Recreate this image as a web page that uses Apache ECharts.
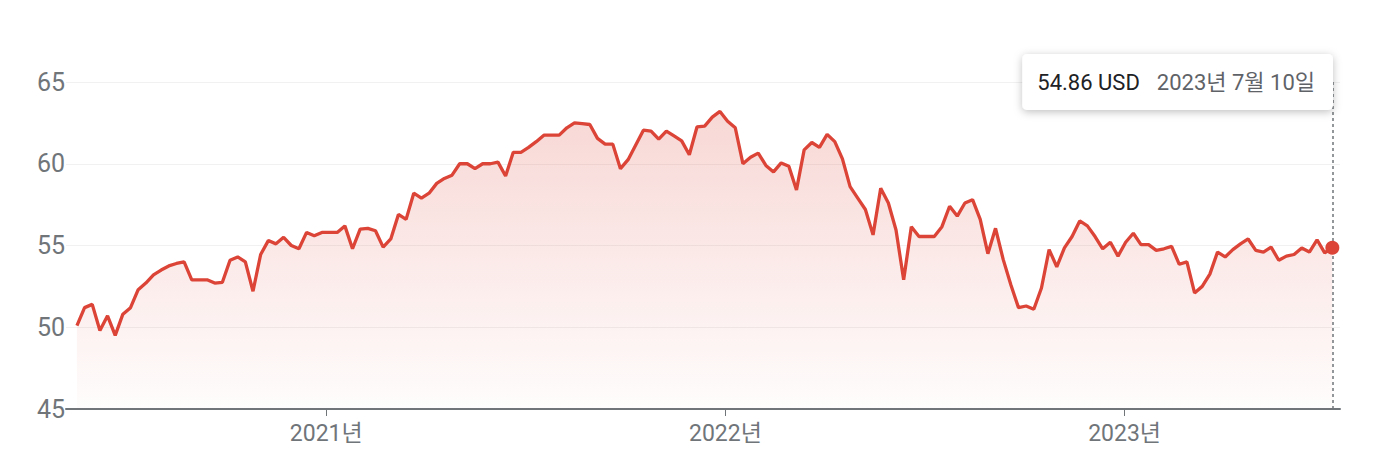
<!DOCTYPE html>
<html>
<head>
<meta charset="utf-8">
<script src="https://cdn.jsdelivr.net/npm/echarts@6/dist/echarts.min.js"></script>
<style>
  html, body { margin: 0; padding: 0; background: #fff; }
  #chart { width: 1380px; height: 474px; }
</style>
</head>
<body>
<div id="chart"></div>
<script>
// weekly closing prices, first week 2020-05-18, last 2023-07-10
const startDate = [2020, 4, 18];
const prices = [
  50.1, 51.2, 51.4, 49.8, 50.7, 49.5, 50.8, 51.2, 52.3, 52.7,
  53.2, 53.5, 53.75, 53.9, 54.0, 52.9, 52.9, 52.9, 52.7, 52.75,
  54.1, 54.3, 54.0, 52.2, 54.45, 55.3, 55.1, 55.5, 55.0, 54.8,
  55.8, 55.6, 55.8, 55.8, 55.8, 56.2, 54.8, 56.0, 56.05, 55.9,
  54.9, 55.4, 56.9, 56.6, 58.2, 57.9, 58.2, 58.8, 59.1, 59.3,
  60.0, 60.0, 59.7, 60.0, 60.0, 60.1, 59.25, 60.7, 60.7, 61.0,
  61.35, 61.75, 61.75, 61.75, 62.2, 62.5, 62.45, 62.4, 61.55, 61.2,
  61.2, 59.7, 60.25, 61.15, 62.05, 62.0, 61.5, 62.0, 61.7, 61.4,
  60.55, 62.25, 62.3, 62.85, 63.2, 62.6, 62.2, 60.0, 60.4, 60.65,
  59.9, 59.5, 60.05, 59.85, 58.4, 60.85, 61.3, 61.0, 61.8, 61.35,
  60.3, 58.6, 57.9, 57.2, 55.65, 58.5, 57.6, 55.95, 52.9, 56.15,
  55.55, 55.55, 55.55, 56.15, 57.4, 56.8, 57.6, 57.8, 56.6, 54.5,
  56.05, 54.15, 52.6, 51.2, 51.3, 51.1, 52.4, 54.75, 53.7, 54.85,
  55.55, 56.5, 56.2, 55.55, 54.8, 55.2, 54.35, 55.2, 55.75, 55.05,
  55.05, 54.7, 54.8, 54.95, 53.85, 54.0, 52.1, 52.5, 53.25, 54.6,
  54.3, 54.75, 55.1, 55.4, 54.7, 54.6, 54.9, 54.1, 54.35, 54.45,
  54.85, 54.6, 55.35, 54.55, 54.86
];
const yearTicks = [2021, 2022, 2023];
const yTicks = [45, 50, 55, 60, 65];
const unit = 'USD';

const red = '#db4437';
const gray = '#70757a';
const font = "Roboto, 'Noto Sans CJK KR', sans-serif";

const dates = prices.map((p, i) => new Date(startDate[0], startDate[1], startDate[2] + 7 * i));
const seriesData = prices.map((p, i) => [dates[i].getTime(), p]);
const last = seriesData[seriesData.length - 1];
const lastDate = dates[dates.length - 1];
const tipDate = lastDate.getFullYear() + '년 ' + (lastDate.getMonth() + 1) + '월 ' + lastDate.getDate() + '일';
const tipValue = last[1].toFixed(2) + ' ' + unit;
const yearStamps = yearTicks.map(y => new Date(y, 0, 1).getTime());

const myChart = echarts.init(document.getElementById('chart'), null, { renderer: 'svg' });
const option = {
  animation: false,
  grid: { left: 66, right: 40, top: 82, bottom: 65 },
  xAxis: {
    type: 'value',
    min: new Date(2020, 4, 8).getTime(),
    max: new Date(2023, 6, 17).getTime(),
    axisLine: { lineStyle: { color: gray, width: 2 } },
    axisTick: { show: true, customValues: yearStamps, length: 7, lineStyle: { color: gray, width: 1 } },
    axisLabel: {
      customValues: yearStamps,
      formatter: v => new Date(v).getFullYear() + '년',
      color: gray,
      fontSize: 23,
      fontFamily: font,
      margin: 13
    },
    splitLine: { show: false }
  },
  yAxis: {
    type: 'value',
    min: yTicks[0],
    max: yTicks[yTicks.length - 1],
    interval: 5,
    axisLine: { show: false },
    axisTick: { show: false },
    axisLabel: { color: gray, fontSize: 25, fontFamily: font, margin: 1 },
    splitLine: { lineStyle: { color: '#f1f1f1', width: 1 } }
  },
  series: [{
    type: 'line',
    data: seriesData,
    showSymbol: false,
    lineStyle: { color: red, width: 3.3 },
    areaStyle: {
      color: new echarts.graphic.LinearGradient(0, 0, 0, 1, [
        { offset: 0, color: 'rgba(219,68,55,0.3)' },
        { offset: 1, color: 'rgba(219,68,55,0.02)' }
      ])
    },
    markLine: {
      silent: true,
      symbol: 'none',
      label: { show: false },
      lineStyle: { color: gray, type: [3, 3], width: 1.5 },
      data: [{ xAxis: last[0] }]
    },
    markPoint: {
      silent: true,
      symbol: 'circle',
      symbolSize: 14,
      itemStyle: { color: red },
      label: { show: false },
      data: [{ coord: last }]
    }
  }],
  graphic: [{
    type: 'text',
    right: 47,
    top: 54,
    z: 100,
    style: {
      text: '{v|' + tipValue + '}{d|' + tipDate + '}',
      rich: {
        v: { fontSize: 22, fontFamily: font, fill: '#202124' },
        d: { fontSize: 22, fontFamily: font, fill: '#5f6368', padding: [0, 0, 0, 17] }
      },
      backgroundColor: '#fff',
      padding: [17, 18, 17, 15],
      borderRadius: 5,
      shadowBlur: 8,
      shadowColor: 'rgba(0,0,0,0.25)',
      shadowOffsetY: 2
    }
  }]
};
myChart.setOption(option);
window.onresize = function () {
  myChart.resize();
};
</script>
</body>
</html>
